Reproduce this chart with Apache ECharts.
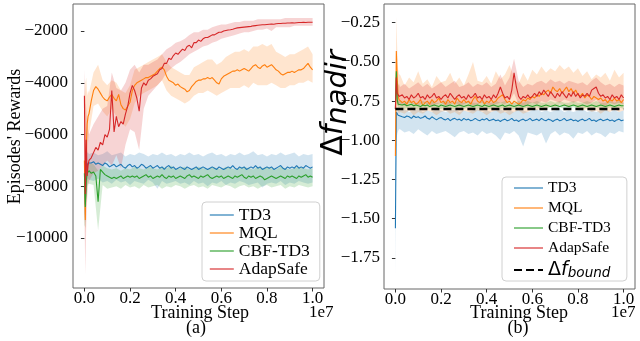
<!DOCTYPE html>
<html>
<head>
<meta charset="utf-8">
<script src="https://cdn.jsdelivr.net/npm/echarts@6/dist/echarts.min.js"></script>
<style>html,body{margin:0;padding:0;background:#fff;}#chart{width:640px;height:341px;}</style>
</head>
<body>
<div id="chart"></div>
<script>
// x positions are in units of 1e7 training steps
const xMean = [0,0.004,0.008,0.012,0.016,0.02,0.03,0.04,0.05,0.06,0.07,0.08,0.09,0.10,0.11,0.12,0.13,0.14,0.15,0.16,0.17,0.18,0.19,0.20,0.21,0.22,0.23,0.24,0.25,0.26,0.27,0.28,0.29,0.30,0.31,0.32,0.33,0.34,0.35,0.36,0.37,0.38,0.39,0.40,0.41,0.42,0.43,0.44,0.45,0.46,0.47,0.48,0.49,0.50,0.51,0.52,0.53,0.54,0.55,0.56,0.57,0.58,0.59,0.60,0.61,0.62,0.63,0.64,0.65,0.66,0.67,0.68,0.69,0.70,0.71,0.72,0.73,0.74,0.75,0.76,0.77,0.78,0.79,0.80,0.81,0.82,0.83,0.84,0.85,0.86,0.87,0.88,0.89,0.90,0.91,0.92,0.93,0.94,0.95,0.96,0.97,0.98,0.99,1.00];
const xBand = [0,0.004,0.008,0.012,0.016,0.02,0.04,0.06,0.08,0.10,0.12,0.14,0.16,0.18,0.20,0.22,0.24,0.26,0.28,0.30,0.32,0.34,0.36,0.38,0.40,0.42,0.44,0.46,0.48,0.50,0.52,0.54,0.56,0.58,0.60,0.62,0.64,0.66,0.68,0.70,0.72,0.74,0.76,0.78,0.80,0.82,0.84,0.86,0.88,0.90,0.92,0.94,0.96,0.98,1.00];

const seriesNames = ['TD3','MQL','CBF-TD3','AdapSafe'];
const xTicks = [0,0.2,0.4,0.6,0.8,1.0];
const rewardTicks = [-10000,-8000,-6000,-4000,-2000];
const nadirTicks = [-1.75,-1.5,-1.25,-1.0,-0.75,-0.5,-0.25];
const boundValue = -0.8;
const boundX = [0, 1.0];

// ---------- (a) Episodes' Rewards ----------
const rewTD3 = [-8000,-8700,-7500,-7200,-7100,
-7050,-7100,-7050,-7150,-7100,-7150,-7200,-7100,-7150,-7250,
-7200,-7150,-7250,-7200,-7150,-7250,-7300,-7200,-7150,-7250,
-7200,-7300,-7250,-7150,-7200,-7300,-7250,-7200,-7300,-7250,
-7200,-7300,-7250,-7350,-7250,-7200,-7300,-7250,-7350,-7300,
-7250,-7300,-7350,-7250,-7300,-7350,-7300,-7250,-7350,-7300,
-7250,-7300,-7350,-7300,-7250,-7300,-7350,-7250,-7300,-7350,
-7300,-7250,-7300,-7200,-7300,-7350,-7250,-7300,-7250,-7350,
-7300,-7250,-7300,-7200,-7300,-7250,-7350,-7300,-7250,-7300,
-7250,-7350,-7300,-7250,-7200,-7300,-7350,-7250,-7300,-7250,
-7300,-7200,-7300,-7250,-7300,-7200,-7250,-7300,-7250];
const rewMQL = [-7000,-9300,-6500,-5600,-5300,
-5200,-4700,-4300,-4150,-4250,-4400,-4550,-4650,-4700,-4550,
-4450,-4600,-4700,-4450,-4850,-5000,-5050,-4900,-4750,-4300,
-4100,-4000,-3950,-3900,-3850,-3800,-3800,-3750,-3700,-3650,
-3550,-3450,-3400,-3500,-3750,-3900,-3950,-4000,-4100,-4050,
-4150,-4200,-4250,-4350,-4300,-4150,-4050,-3950,-3900,-3900,
-3850,-3850,-3800,-3850,-3800,-3900,-4000,-4050,-3850,-3750,
-3700,-3650,-3600,-3550,-3550,-3500,-3550,-3500,-3450,-3500,
-3550,-3450,-3350,-3300,-3400,-3450,-3350,-3300,-3400,-3350,
-3300,-3400,-3500,-3550,-3650,-3700,-3650,-3600,-3600,-3550,
-3600,-3550,-3500,-3500,-3450,-3350,-3250,-3400,-3500];
const rewCBF = [-7500,-8800,-7800,-7500,-7450,
-7400,-7500,-7450,-7600,-8600,-7350,-7450,-7550,-7600,-7650,
-7700,-7650,-7700,-7650,-7600,-7700,-7650,-7600,-7650,-7600,
-7650,-7600,-7700,-7650,-7600,-7550,-7650,-7600,-7700,-7650,
-7600,-7650,-7550,-7650,-7700,-7600,-7650,-7600,-7700,-7650,
-7600,-7650,-7700,-7600,-7550,-7650,-7600,-7650,-7700,-7600,
-7650,-7600,-7550,-7650,-7700,-7650,-7600,-7650,-7600,-7700,
-7650,-7600,-7650,-7700,-7600,-7650,-7600,-7550,-7650,-7700,
-7600,-7650,-7600,-7700,-7650,-7600,-7650,-7750,-7700,-7650,
-7600,-7650,-7700,-7650,-7600,-7650,-7700,-7600,-7650,-7600,
-7650,-7700,-7600,-7650,-7600,-7550,-7650,-7600,-7650];
const rewAdap = [-4500,-8300,-6200,-7600,-7200,
-7000,-6900,-6700,-6500,-6600,-6300,-6400,-6000,-6100,-5800,
-4300,-5900,-5300,-5700,-5500,-5600,-5200,-4900,-4400,-4100,
-4300,-4600,-5100,-4200,-4000,-4100,-3900,-3850,-3750,-3700,
-3650,-3500,-3450,-3250,-3250,-3050,-3100,-2950,-2850,-2900,
-2800,-2700,-2750,-2600,-2550,-2650,-2450,-2450,-2350,-2400,
-2300,-2250,-2250,-2200,-2150,-2150,-2100,-2050,-2050,-2000,
-1980,-1960,-1950,-1930,-1900,-1880,-1870,-1860,-1850,-1840,
-1830,-1820,-1800,-1790,-1780,-1770,-1760,-1760,-1750,-1740,
-1730,-1740,-1720,-1710,-1710,-1700,-1700,-1690,-1690,-1680,
-1690,-1680,-1670,-1670,-1660,-1670,-1660,-1660,-1660];

const rewTD3Lo = [-9000,-9400,-8500,-7900,-7700,
-7750,-7800,-7700,-7850,-7800,-7900,-7750,-7850,-7800,-7950,
-7800,-7850,-7900,-7750,-7850,-8100,-7800,-7900,-7850,-7800,
-7900,-7850,-7950,-7800,-7900,-7850,-8000,-7850,-7900,-7800,
-7950,-7850,-7900,-7800,-7850,-7950,-7900,-7850,-8050,-7900,
-7850,-7900,-7800,-7950,-7850,-7900,-7800,-7850,-7900,-7850];
const rewTD3Hi = [-7200,-7600,-6800,-6700,-6700,
-6750,-6700,-6800,-6750,-6650,-6800,-6750,-6700,-6850,-6750,
-6800,-6700,-6750,-6850,-6750,-6800,-6700,-6800,-6750,-6850,
-6750,-6800,-6700,-6800,-6750,-6850,-6750,-6700,-6800,-6750,
-6850,-6750,-6800,-6700,-6800,-6750,-6650,-6800,-6750,-6850,
-6750,-6800,-6700,-6800,-6750,-6700,-6850,-6750,-6800,-6750];
const rewMQLLo = [-9000,-9800,-8500,-7000,-6300,
-6000,-4900,-4800,-5100,-5300,-5000,-5300,-5500,-5700,-5400,
-4800,-4500,-4400,-4300,-4200,-4100,-3900,-4300,-4500,-4600,
-4700,-4800,-4700,-4500,-4400,-4400,-4300,-4400,-4500,-4400,
-4300,-4200,-4200,-4200,-4100,-4200,-4000,-4100,-4100,-4100,
-4000,-4100,-4200,-4200,-4100,-4100,-4000,-4000,-3900,-4000];
const rewMQLHi = [-4500,-4000,-3800,-4500,-4300,
-4400,-3600,-3300,-3900,-4100,-3900,-4000,-4300,-4400,-4100,
-3500,-3400,-3300,-3200,-3100,-3000,-2900,-3200,-3400,-3500,
-3600,-3700,-3700,-3400,-3300,-3200,-3100,-3100,-3300,-3200,
-3000,-2900,-2800,-2800,-2700,-2800,-2600,-2600,-2500,-2600,
-2500,-2800,-2900,-3000,-2900,-2900,-2800,-2700,-2600,-2900];
const rewCBFLo = [-9500,-9600,-8500,-8000,-7900,
-7900,-7950,-9700,-7950,-8100,-8050,-8000,-8100,-7950,-8050,
-8000,-8100,-7950,-8050,-8000,-7950,-8100,-8000,-8050,-7950,
-8000,-8100,-8000,-7950,-8050,-8000,-8100,-7950,-8000,-8050,
-7950,-8000,-8100,-8000,-7950,-8050,-8000,-8100,-8000,-7950,
-8050,-8000,-7950,-8100,-8000,-8050,-7950,-8000,-8050,-8000];
const rewCBFHi = [-7000,-8000,-7300,-7200,-7100,
-7100,-7150,-7400,-7200,-7300,-7350,-7300,-7400,-7300,-7350,
-7250,-7300,-7350,-7250,-7300,-7350,-7250,-7300,-7200,-7350,
-7300,-7250,-7350,-7300,-7250,-7300,-7350,-7250,-7300,-7350,
-7250,-7300,-7350,-7300,-7250,-7300,-7350,-7250,-7300,-7250,
-7300,-7350,-7250,-7300,-7350,-7300,-7250,-7300,-7350,-7300];
const rewAdapLo = [-9000,-11400,-9500,-8500,-8000,
-7800,-7500,-7400,-7200,-7000,-7200,-6800,-7300,-6400,-5800,
-5900,-6600,-5000,-4500,-4300,-4100,-3900,-3600,-3450,-3300,
-3200,-3050,-2900,-2800,-2700,-2600,-2550,-2450,-2400,-2300,
-2250,-2200,-2150,-2100,-2050,-2050,-2000,-1950,-1950,-1900,
-2000,-1850,-1850,-1850,-1850,-1800,-1800,-1800,-1800,-1800];
const rewAdapHi = [-3500,-4500,-5000,-5500,-5800,
-6000,-5600,-5300,-5000,-4900,-3600,-4200,-4300,-4000,-3500,
-3300,-3600,-3300,-3300,-3200,-3100,-2900,-2700,-2600,-2450,
-2400,-2300,-2150,-2050,-2050,-1950,-1950,-1850,-1800,-1750,
-1750,-1700,-1650,-1650,-1600,-1600,-1600,-1550,-1550,-1550,
-1550,-1550,-1550,-1500,-1500,-1500,-1500,-1500,-1500,-1500];

// ---------- (b) Delta f_nadir ----------
const nadTD3 = [-1.56,-0.82,-0.83,-0.84,-0.84,
-0.845,-0.850,-0.855,-0.845,-0.850,-0.860,-0.845,-0.855,-0.850,-0.860,
-0.855,-0.845,-0.860,-0.865,-0.850,-0.860,-0.870,-0.860,-0.855,-0.865,
-0.870,-0.860,-0.875,-0.865,-0.860,-0.870,-0.865,-0.875,-0.860,-0.870,
-0.865,-0.875,-0.870,-0.860,-0.870,-0.875,-0.865,-0.870,-0.860,-0.875,
-0.870,-0.865,-0.875,-0.870,-0.880,-0.870,-0.865,-0.875,-0.870,-0.860,
-0.875,-0.870,-0.880,-0.870,-0.865,-0.875,-0.870,-0.860,-0.875,-0.870,
-0.865,-0.875,-0.860,-0.870,-0.875,-0.865,-0.870,-0.880,-0.870,-0.865,
-0.875,-0.870,-0.860,-0.875,-0.870,-0.865,-0.875,-0.870,-0.880,-0.870,
-0.865,-0.875,-0.870,-0.860,-0.875,-0.870,-0.880,-0.870,-0.865,-0.875,
-0.870,-0.865,-0.875,-0.870,-0.880,-0.870,-0.865,-0.875,-0.870];
const nadMQL = [-1.10,-0.43,-0.60,-0.72,-0.74,
-0.74,-0.76,-0.75,-0.77,-0.74,-0.76,-0.75,-0.77,-0.76,-0.74,
-0.78,-0.76,-0.75,-0.77,-0.74,-0.76,-0.75,-0.73,-0.76,-0.75,
-0.77,-0.74,-0.76,-0.75,-0.77,-0.73,-0.75,-0.76,-0.74,-0.76,
-0.75,-0.77,-0.74,-0.72,-0.75,-0.76,-0.74,-0.77,-0.75,-0.76,
-0.74,-0.76,-0.75,-0.73,-0.72,-0.71,-0.74,-0.76,-0.75,-0.77,
-0.75,-0.76,-0.77,-0.76,-0.74,-0.75,-0.73,-0.74,-0.72,-0.73,
-0.71,-0.72,-0.70,-0.71,-0.69,-0.68,-0.70,-0.66,-0.68,-0.69,
-0.67,-0.70,-0.68,-0.66,-0.69,-0.67,-0.70,-0.68,-0.71,-0.72,
-0.70,-0.73,-0.71,-0.72,-0.74,-0.72,-0.73,-0.74,-0.73,-0.75,
-0.74,-0.76,-0.74,-0.75,-0.73,-0.75,-0.74,-0.76,-0.74];
const nadCBF = [-0.80,-0.56,-0.74,-0.77,-0.77,
-0.770,-0.775,-0.770,-0.780,-0.775,-0.770,-0.780,-0.775,-0.780,-0.785,
-0.775,-0.780,-0.775,-0.785,-0.780,-0.775,-0.780,-0.785,-0.775,-0.780,
-0.785,-0.780,-0.775,-0.780,-0.785,-0.780,-0.775,-0.780,-0.785,-0.780,
-0.775,-0.780,-0.785,-0.780,-0.775,-0.780,-0.785,-0.775,-0.780,-0.785,
-0.780,-0.775,-0.780,-0.785,-0.780,-0.775,-0.785,-0.780,-0.775,-0.780,
-0.785,-0.780,-0.775,-0.780,-0.785,-0.780,-0.775,-0.780,-0.785,-0.780,
-0.775,-0.780,-0.785,-0.780,-0.775,-0.780,-0.785,-0.780,-0.775,-0.780,
-0.785,-0.780,-0.775,-0.780,-0.785,-0.780,-0.775,-0.780,-0.785,-0.780,
-0.775,-0.780,-0.785,-0.780,-0.775,-0.780,-0.785,-0.780,-0.775,-0.780,
-0.785,-0.780,-0.775,-0.780,-0.785,-0.780,-0.775,-0.780,-0.780];
const nadAdap = [-0.80,-0.60,-0.70,-0.71,-0.72,
-0.72,-0.71,-0.73,-0.72,-0.74,-0.71,-0.73,-0.72,-0.70,-0.73,
-0.72,-0.74,-0.71,-0.73,-0.72,-0.70,-0.73,-0.72,-0.74,-0.72,
-0.71,-0.73,-0.70,-0.72,-0.74,-0.72,-0.71,-0.73,-0.72,-0.74,
-0.71,-0.73,-0.72,-0.70,-0.73,-0.72,-0.74,-0.71,-0.73,-0.72,
-0.74,-0.71,-0.73,-0.70,-0.66,-0.70,-0.73,-0.72,-0.74,-0.68,
-0.57,-0.66,-0.72,-0.74,-0.72,-0.73,-0.71,-0.73,-0.72,-0.70,
-0.72,-0.69,-0.71,-0.68,-0.70,-0.72,-0.69,-0.71,-0.73,-0.70,
-0.72,-0.69,-0.71,-0.73,-0.70,-0.72,-0.69,-0.72,-0.70,-0.73,
-0.71,-0.72,-0.70,-0.72,-0.68,-0.67,-0.66,-0.70,-0.72,-0.71,
-0.73,-0.72,-0.74,-0.71,-0.73,-0.72,-0.74,-0.71,-0.73];

const nadTD3Lo = [-1.87,-1.00,-0.96,-0.94,-0.93,
-0.93,-0.95,-0.94,-0.96,-0.93,-0.95,-0.97,-0.94,-0.96,-0.95,
-0.94,-0.96,-0.98,-0.95,-0.94,-0.96,-0.95,-0.97,-0.94,-0.96,
-0.95,-0.97,-1.00,-0.95,-0.96,-0.94,-0.97,-1.04,-0.95,-0.96,
-0.97,-0.95,-1.02,-0.96,-0.94,-0.97,-0.95,-0.96,-0.99,-0.95,
-0.96,-0.94,-0.97,-0.95,-0.96,-0.98,-0.95,-0.96,-0.94,-0.95];
const nadTD3Hi = [-1.10,-0.78,-0.79,-0.80,-0.81,
-0.81,-0.80,-0.82,-0.81,-0.80,-0.82,-0.81,-0.82,-0.80,-0.81,
-0.82,-0.81,-0.80,-0.82,-0.81,-0.82,-0.81,-0.80,-0.82,-0.81,
-0.82,-0.81,-0.80,-0.82,-0.81,-0.82,-0.80,-0.81,-0.82,-0.81,
-0.80,-0.82,-0.81,-0.82,-0.81,-0.80,-0.82,-0.81,-0.82,-0.81,
-0.80,-0.82,-0.81,-0.82,-0.81,-0.80,-0.82,-0.81,-0.82,-0.81];
const nadMQLLo = [-1.12,-0.70,-0.80,-0.82,-0.83,
-0.82,-0.83,-0.81,-0.84,-0.82,-0.83,-0.81,-0.82,-0.84,-0.82,
-0.81,-0.83,-0.82,-0.84,-0.81,-0.82,-0.83,-0.81,-0.82,-0.84,
-0.82,-0.81,-0.83,-0.82,-0.84,-0.82,-0.81,-0.83,-0.82,-0.80,
-0.81,-0.79,-0.80,-0.78,-0.79,-0.77,-0.78,-0.79,-0.77,-0.80,
-0.81,-0.80,-0.82,-0.81,-0.83,-0.81,-0.82,-0.80,-0.82,-0.81];
const nadMQLHi = [-0.90,-0.21,-0.42,-0.55,-0.58,
-0.58,-0.65,-0.60,-0.63,-0.56,-0.64,-0.61,-0.66,-0.59,-0.63,
-0.62,-0.57,-0.64,-0.60,-0.65,-0.58,-0.50,-0.62,-0.63,-0.59,
-0.64,-0.56,-0.61,-0.58,-0.52,-0.60,-0.64,-0.57,-0.62,-0.55,
-0.58,-0.53,-0.57,-0.54,-0.56,-0.52,-0.55,-0.53,-0.57,-0.54,
-0.59,-0.56,-0.61,-0.58,-0.60,-0.57,-0.62,-0.55,-0.60,-0.57];
const nadCBFLo = [-0.82,-0.70,-0.78,-0.79,-0.80,
-0.79,-0.80,-0.79,-0.80,-0.80,-0.79,-0.80,-0.79,-0.80,-0.80,
-0.79,-0.80,-0.80,-0.79,-0.80,-0.79,-0.80,-0.80,-0.79,-0.80,
-0.80,-0.79,-0.80,-0.79,-0.80,-0.80,-0.79,-0.80,-0.79,-0.80,
-0.79,-0.80,-0.80,-0.79,-0.80,-0.79,-0.80,-0.80,-0.79,-0.80,
-0.80,-0.79,-0.80,-0.79,-0.80,-0.80,-0.79,-0.80,-0.79,-0.80];
const nadCBFHi = [-0.78,-0.45,-0.68,-0.74,-0.75,
-0.75,-0.76,-0.75,-0.76,-0.76,-0.75,-0.76,-0.75,-0.76,-0.76,
-0.75,-0.76,-0.76,-0.75,-0.76,-0.75,-0.76,-0.76,-0.75,-0.76,
-0.76,-0.75,-0.76,-0.75,-0.76,-0.76,-0.75,-0.76,-0.75,-0.76,
-0.75,-0.76,-0.76,-0.75,-0.76,-0.75,-0.76,-0.76,-0.75,-0.76,
-0.76,-0.75,-0.76,-0.75,-0.76,-0.76,-0.75,-0.76,-0.75,-0.76];
const nadAdapLo = [-0.85,-0.72,-0.77,-0.78,-0.78,
-0.77,-0.78,-0.76,-0.77,-0.78,-0.76,-0.77,-0.78,-0.77,-0.76,
-0.78,-0.77,-0.76,-0.78,-0.77,-0.76,-0.78,-0.77,-0.76,-0.77,
-0.78,-0.77,-0.76,-0.77,-0.75,-0.70,-0.77,-0.78,-0.77,-0.76,
-0.77,-0.75,-0.76,-0.74,-0.75,-0.76,-0.74,-0.75,-0.76,-0.75,
-0.76,-0.77,-0.76,-0.74,-0.77,-0.78,-0.76,-0.77,-0.76,-0.77];
const nadAdapHi = [-0.75,-0.50,-0.62,-0.65,-0.64,
-0.66,-0.64,-0.67,-0.65,-0.63,-0.66,-0.64,-0.67,-0.65,-0.63,
-0.66,-0.64,-0.62,-0.66,-0.65,-0.63,-0.66,-0.64,-0.65,-0.63,
-0.66,-0.64,-0.58,-0.65,-0.60,-0.48,-0.62,-0.66,-0.64,-0.65,
-0.63,-0.62,-0.64,-0.61,-0.63,-0.62,-0.64,-0.62,-0.63,-0.64,
-0.63,-0.65,-0.62,-0.60,-0.63,-0.65,-0.64,-0.66,-0.64,-0.65];

// ---------- chart ----------
const COLORS = ['#1f77b4','#ff7f0e','#2ca02c','#d62728'];
const SERIF = "'Liberation Serif','Times New Roman',serif";
const SANS = "'DejaVu Sans', sans-serif";
const MINUS = '\u2212';

function pairs(xs, ys){ return xs.map((x,i)=>[x, ys[i]]); }
function lineSeries(name, xs, ys, color, idx){
  return {type:'line', name, xAxisIndex:idx, yAxisIndex:idx, data:pairs(xs,ys),
    symbol:'none', showSymbol:false, lineStyle:{color, width:1.1}, itemStyle:{color},
    animation:false, silent:true};
}
function bandSeries(name, xs, lo, hi, color, idx){
  return {type:'custom', name:name+' band', xAxisIndex:idx, yAxisIndex:idx, silent:true, animation:false,
    clip:true,
    data: xs.map((x,i)=>[x, lo[i], hi[i]]),
    encode:{x:0, y:[1,2]},
    renderItem:function(params, api){
      if (params.dataIndex !== 0) return null;
      const top = xs.map((x,i)=>api.coord([x, hi[i]]));
      const bot = xs.map((x,i)=>api.coord([x, lo[i]])).reverse();
      return {type:'polygon', shape:{points: top.concat(bot)}, style:{fill:color, opacity:0.2}};
    }};
}

const rewMeans = [rewTD3, rewMQL, rewCBF, rewAdap];
const rewLos = [rewTD3Lo, rewMQLLo, rewCBFLo, rewAdapLo];
const rewHis = [rewTD3Hi, rewMQLHi, rewCBFHi, rewAdapHi];
const nadMeans = [nadTD3, nadMQL, nadCBF, nadAdap];
const nadLos = [nadTD3Lo, nadMQLLo, nadCBFLo, nadAdapLo];
const nadHis = [nadTD3Hi, nadMQLHi, nadCBFHi, nadAdapHi];

const series = [];
seriesNames.forEach((n,i)=>{
  series.push(lineSeries(n, xMean, rewMeans[i], COLORS[i], 0));
  series.push(bandSeries(n, xBand, rewLos[i], rewHis[i], COLORS[i], 0));
});
seriesNames.forEach((n,i)=>{
  series.push(lineSeries(n, xMean, nadMeans[i], COLORS[i], 1));
  series.push(bandSeries(n, xBand, nadLos[i], nadHis[i], COLORS[i], 1));
});
series.push({type:'line', name:'bound', xAxisIndex:1, yAxisIndex:1,
  data: boundX.map(x=>[x, boundValue]), symbol:'none', animation:false, silent:true,
  lineStyle:{color:'#000', width:2.5, type:[8,4]}, itemStyle:{color:'#000'}, z:5});

const axisLabelBase = {fontFamily:SERIF, fontSize:17, color:'#000'};
function xAxis(idx){
  return {type:'value', gridIndex:idx, min:-0.05, max:1.05,
    axisLine:{show:false}, splitLine:{show:false},
    axisTick:{show:true, length:3.5, lineStyle:{color:'#333'}, customValues:xTicks},
    axisLabel:Object.assign({margin:2, customValues:xTicks, formatter:v=>v.toFixed(1)}, axisLabelBase)};
}
const hiddenSymbol = {opacity:0, color:'rgba(0,0,0,0)', borderWidth:0};
function legendItems(){
  return seriesNames.map(n=>({name:n, itemStyle:hiddenSymbol, lineStyle:{width:1.6, opacity:0.7}}));
}

const option = {
  backgroundColor:'#fff',
  animation:false,
  grid:[
    {left:73, top:4, width:251, height:284, show:true, borderColor:'#666', borderWidth:1, backgroundColor:'transparent'},
    {left:384, top:4, width:251, height:285, show:true, borderColor:'#666', borderWidth:1, backgroundColor:'transparent'}
  ],
  xAxis:[xAxis(0), xAxis(1)],
  yAxis:[
    {type:'value', gridIndex:0, min:-11932, max:-956, axisLine:{show:false}, splitLine:{show:false},
     axisTick:{show:true, length:3.5, lineStyle:{color:'#333'}, customValues:rewardTicks},
     axisLabel:Object.assign({margin:5, customValues:rewardTicks, formatter:v=>(v<0?MINUS:'')+Math.abs(v)}, axisLabelBase)},
    {type:'value', gridIndex:1, min:-1.948, max:-0.131, axisLine:{show:false}, splitLine:{show:false},
     axisTick:{show:true, length:3.5, lineStyle:{color:'#333'}, customValues:nadirTicks},
     axisLabel:Object.assign({margin:4, customValues:nadirTicks, formatter:v=>(v<0?MINUS:'')+Math.abs(v).toFixed(2)}, axisLabelBase)}
  ],
  legend:[
    {left:202, top:202, orient:'vertical', selectedMode:false,
     data: legendItems(),
     itemWidth:24, itemHeight:14, itemGap:0, padding:[4,10,3,7],
     backgroundColor:'rgba(255,255,255,0.85)', borderColor:'#d0d0d0', borderWidth:1, borderRadius:4,
     textStyle:{fontFamily:SERIF, fontSize:17.5, color:'#000'}},
    {left:502, top:177, orient:'vertical', selectedMode:false,
     data: legendItems().concat([{name:'bound', itemStyle:hiddenSymbol}]),
     itemWidth:29, itemHeight:14, itemGap:4, padding:[3,16,1,11],
     backgroundColor:'rgba(255,255,255,0.85)', borderColor:'#d0d0d0', borderWidth:1, borderRadius:4,
     formatter:function(name){ return name==='bound' ? '{d|\u0394}{f|f}{s|bound}' : name; },
     textStyle:{fontFamily:SERIF, fontSize:15.5, color:'#000', rich:{
       d:{fontFamily:SANS, fontSize:19, lineHeight:16, color:'#000'},
       f:{fontFamily:SANS, fontStyle:'italic', fontSize:19, lineHeight:16, color:'#000'},
       s:{fontFamily:SANS, fontStyle:'italic', fontSize:13.6, lineHeight:11, padding:[6,0,0,0], color:'#000'}
     }}}
  ],
  graphic:[
    {type:'text', x:15, y:136.5, rotation:Math.PI/2, silent:true,
     style:{text:"Episodes' Rewards", fontFamily:SERIF, fontSize:18, fill:'#000', align:'center', verticalAlign:'middle'}},
    {type:'text', x:200, y:313, silent:true,
     style:{text:'Training Step', fontFamily:SERIF, fontSize:18, fill:'#000', align:'center', verticalAlign:'middle'}},
    {type:'text', x:196, y:328, silent:true,
     style:{text:'(a)', fontFamily:SERIF, fontSize:18, fill:'#000', align:'center', verticalAlign:'middle'}},
    {type:'text', x:309, y:313, silent:true,
     style:{text:'1e7', fontFamily:SERIF, fontSize:17, fill:'#000', align:'left', verticalAlign:'middle'}},
    {type:'text', x:519, y:313, silent:true,
     style:{text:'Training Step', fontFamily:SERIF, fontSize:18, fill:'#000', align:'center', verticalAlign:'middle'}},
    {type:'text', x:518, y:328, silent:true,
     style:{text:'(b)', fontFamily:SERIF, fontSize:18, fill:'#000', align:'center', verticalAlign:'middle'}},
    {type:'text', x:611, y:313, silent:true,
     style:{text:'1e7', fontFamily:SERIF, fontSize:17, fill:'#000', align:'left', verticalAlign:'middle'}},
    {type:'text', x:334, y:103, rotation:Math.PI/2, silent:true,
     style:{text:'{d|\u0394}{f|f}{s|nadir}', align:'center', verticalAlign:'middle',
       rich:{
         d:{fontFamily:SANS, fontSize:30, lineHeight:24, fill:'#000'},
         f:{fontFamily:SANS, fontStyle:'italic', fontSize:30, lineHeight:24, fill:'#000'},
         s:{fontFamily:SANS, fontStyle:'italic', fontSize:29, lineHeight:18, padding:[9,0,0,0], fill:'#000'}
       }}}
  ],
  series:series
};

const chart = echarts.init(document.getElementById('chart'), null, {renderer:'canvas', width:640, height:341});
chart.setOption(option);
</script>
</body>
</html>
